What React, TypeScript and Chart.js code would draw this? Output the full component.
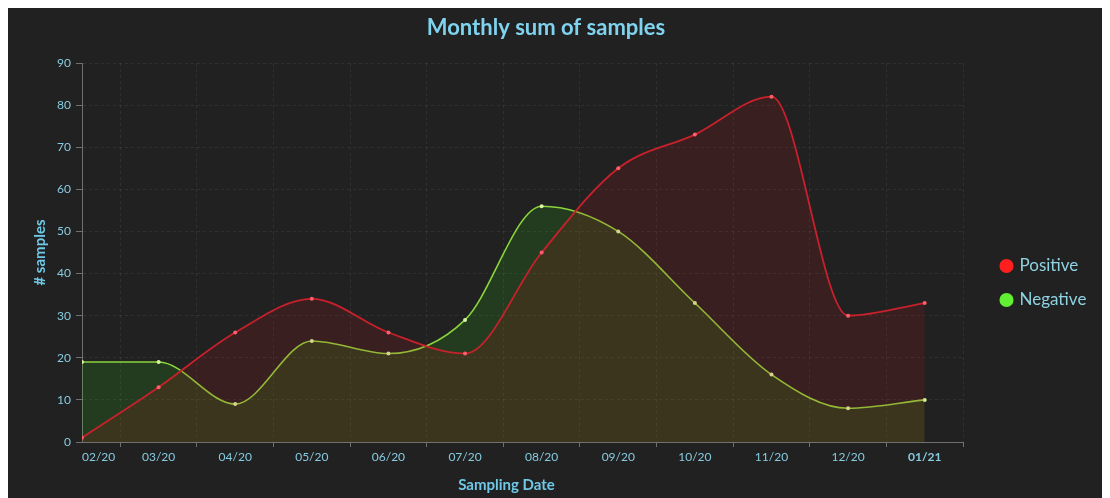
import { useEffect, useRef } from 'react';
import { Chart, registerables } from 'chart.js';

Chart.register(...registerables);

const months = ['02/20', '03/20', '04/20', '05/20', '06/20', '07/20', '08/20', '09/20', '10/20', '11/20', '12/20', '01/21'];
const positive = [1, 13, 26, 34, 26, 21, 45, 65, 73, 82, 30, 33];
const negative = [19, 19, 9, 24, 21, 29, 56, 50, 33, 16, 8, 10];
const seriesNames = ['Positive', 'Negative'];
const yMin = 0;
const yMax = 90;
const yStep = 10;

const FONT = 'Lato, "Open Sans", "DejaVu Sans", sans-serif';
const TEXT_BLUE = '#86cbe0';
const TITLE_BLUE = '#7fd3ef';
const AXIS = '#707070';
const GRID = 'rgba(255,255,255,0.07)';
const LEGEND_DOTS = ['#ff1f1f', '#62f032'];

export default function App() {
  const ref = useRef<HTMLCanvasElement>(null);

  useEffect(() => {
    document.documentElement.style.overflow = 'hidden';
    document.body.style.overflow = 'hidden';
    const canvas = ref.current;
    if (!canvas) return;

    const halfTicks: number[] = [];
    for (let i = 0; i < months.length; i++) {
      halfTicks.push(i);
      halfTicks.push(i + 0.5);
    }

    const layoutTweaks = {
      id: 'layoutTweaks',
      beforeLayout(chart: any) {
        const lg = chart.legend;
        if (lg && !lg.__patched) {
          const orig = lg.fit.bind(lg);
          lg.fit = function () {
            orig();
            this.width = 121;
          };
          lg.__patched = true;
        }
      },
      afterLayout(chart: any) {
        const lg = chart.legend;
        if (lg) {
          const w = lg.width;
          lg.left = 977;
          lg.right = 977 + w;
          lg.top = 232.5;
          lg.bottom = 232.5 + 200;
        }
        const sx = chart.scales.x;
        if (sx && !sx.__patched) {
          const origTitle = sx.drawTitle.bind(sx);
          sx.drawTitle = function () {
            const l = this.left;
            const r = this.right;
            this.left = l - 16;
            this.right = r - 16;
            origTitle();
            this.left = l;
            this.right = r;
          };
          sx.__patched = true;
        }
      },
    };

    const chart = new Chart(canvas, {
      type: 'line',
      data: {
        datasets: [
          {
            label: seriesNames[0],
            data: positive.map((y, i) => ({ x: i, y })),
            borderColor: '#c8212c',
            backgroundColor: 'rgba(200,20,30,0.15)',
            fill: 'origin',
            cubicInterpolationMode: 'monotone',
            borderWidth: 1.8,
            pointRadius: 2,
            pointBorderWidth: 0,
            pointBackgroundColor: '#ff5f6c',
          },
          {
            label: seriesNames[1],
            data: negative.map((y, i) => ({ x: i, y })),
            borderColor: '#8ad63c',
            backgroundColor: 'rgba(50,200,20,0.16)',
            fill: 'origin',
            cubicInterpolationMode: 'monotone',
            borderWidth: 1.6,
            pointRadius: 2,
            pointBorderWidth: 0,
            pointBackgroundColor: '#d9f5a0',
          },
        ],
      },
      options: {
        animation: false,
        responsive: false,
        maintainAspectRatio: false,
        devicePixelRatio: 1,
        layout: { padding: { left: 0, right: 26, top: 0, bottom: 0 } },
        font: { family: FONT },
        plugins: {
          tooltip: { enabled: false },
          title: {
            display: true,
            text: 'Monthly sum of samples',
            color: TITLE_BLUE,
            font: { family: FONT, size: 22, weight: 'bold' },
            padding: { top: 7, bottom: 21.6 },
          },
          legend: {
            display: true,
            position: 'right',
            align: 'start',
            labels: {
              usePointStyle: true,
              pointStyle: 'circle',
              boxWidth: 9,
              boxHeight: 10,
              padding: 17,
              color: '#8fd2e2',
              font: { family: FONT, size: 17 },
              generateLabels: (c: any) =>
                (Chart.defaults.plugins.legend.labels.generateLabels as any)(c).map((it: any, i: number) => ({
                  ...it,
                  fillStyle: LEGEND_DOTS[i],
                  strokeStyle: LEGEND_DOTS[i],
                  lineWidth: 0,
                  pointStyle: 'circle',
                })),
            },
          },
        },
        scales: {
          x: {
            type: 'linear',
            min: 0,
            max: months.length - 0.5,
            afterBuildTicks: (s: any) => {
              s.ticks = halfTicks.map((v) => ({ value: v }));
            },
            afterFit: (s: any) => {
              s.height = 56;
            },
            ticks: {
              autoSkip: false,
              maxRotation: 0,
              minRotation: 0,
              align: 'inner',
              padding: 3,
              color: TEXT_BLUE,
              font: (ctx: any) => ({
                family: FONT,
                size: 12,
                weight: ctx.tick && ctx.tick.value === months.length - 1 ? 'bold' : 'normal',
              }),
              callback: (v: any) => (Number.isInteger(v) ? months[v] : ''),
            },
            grid: {
              color: (ctx: any) => (ctx.tick && !Number.isInteger(ctx.tick.value) ? GRID : 'transparent'),
              tickColor: (ctx: any) => (ctx.tick && !Number.isInteger(ctx.tick.value) ? AXIS : 'transparent'),
              tickLength: 5,
            },
            border: { color: AXIS, width: 1, dash: [3, 3] },
            title: {
              display: true,
              text: 'Sampling Date',
              color: '#6fc8e6',
              font: { family: FONT, size: 15, weight: 'bold' },
              padding: { top: 0, bottom: 4 },
            },
          },
          y: {
            min: yMin,
            max: yMax,
            afterFit: (s: any) => {
              s.width = 74;
            },
            ticks: {
              stepSize: yStep,
              color: TEXT_BLUE,
              padding: 5,
              font: { family: FONT, size: 12 },
            },
            grid: {
              color: GRID,
              tickColor: AXIS,
              tickLength: 6,
            },
            border: { color: AXIS, width: 1, dash: [3, 3] },
            title: {
              display: true,
              text: '# samples',
              color: '#6fc8e6',
              font: { family: FONT, size: 15, weight: 'bold' },
              padding: { top: 23, bottom: 0 },
            },
          },
        },
      } as any,
      plugins: [layoutTweaks],
    });

    return () => chart.destroy();
  }, []);

  return (
    <div style={{ width: 1102, height: 490, background: '#212121' }}>
      <canvas ref={ref} width={1102} height={490} style={{ display: 'block', width: 1102, height: 490 }} />
    </div>
  );
}
